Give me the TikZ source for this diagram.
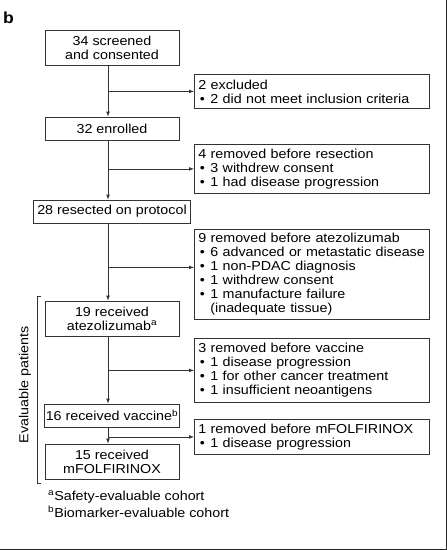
\documentclass[tikz,border=0pt]{standalone}
\usepackage{fontspec}
\setmainfont{Liberation Sans}[FakeStretch=1.1]
\usetikzlibrary{positioning}
\tikzset{block/.style={draw=black!80, line width=0.8pt, minimum width=134pt, inner xsep=1pt, inner ysep=0pt, align=center, font=\fontsize{13}{14}\selectfont},
  side/.style={draw=black!80, line width=0.8pt, anchor=north west, text width=227pt, inner xsep=4pt, inner ysep=0pt, align=left, font=\fontsize{13}{14}\selectfont},
  line/.style={-latex, line width=0.7pt, black!80},
  plain/.style={inner sep=0pt, font=\fontsize{13}{14}\selectfont}}
\newcommand{\itm}{\hspace*{1.5pt}\makebox[10.5pt][l]{\textbullet}}

\begin{document}
\begin{tikzpicture}[x=1pt,y=-1pt]
    \useasboundingbox (0,0) rectangle (447,550);
    \node[plain, anchor=base west, font=\fontsize{16}{16}\selectfont\bfseries] (tag) at (3,23) {b};

    \node[block,minimum height=35pt]                     (scr) at (112,47.5)  {34 screened\\and consented};
    \node[block,minimum height=23pt]                     (enr) at (112,128.5) {32 enrolled};
    \node[block,minimum height=23pt,minimum width=157pt] (res) at (112,211.5) {28 resected on protocol};
    \node[block,minimum height=35pt]                     (atz) at (112,318.5) {19 received\\atezolizumab\textsuperscript{a}};
    \node[block,minimum height=23pt]                     (vac) at (112,415.5) {16 received vaccine\textsuperscript{b}};
    \node[block,minimum height=35pt]                     (mfx) at (112,461.5) {15 received\\mFOLFIRINOX};

    \node[side,minimum height=34pt] (exc)  at (194,74)  {2 excluded\\\itm 2 did not meet inclusion criteria};
    \node[side,minimum height=49pt] (rres) at (194,144) {4 removed before resection\\\itm 3 withdrew consent\\\itm 1 had disease progression};
    \node[side,minimum height=90pt] (ratz) at (194,229) {9 removed before atezolizumab\\\itm 6 advanced or metastatic disease\\\itm 1 non-PDAC diagnosis\\\itm 1 withdrew consent\\\itm 1 manufacture failure\\\hspace*{12pt}(inadequate tissue)};
    \node[side,minimum height=64pt] (rvac) at (194,338) {3 removed before vaccine\\\itm 1 disease progression\\\itm 1 for other cancer treatment\\\itm 1 insufficient neoantigens};
    \node[side,minimum height=35pt] (rmfx) at (194,419) {1 removed before mFOLFIRINOX\\\itm 1 disease progression};

    \node[plain,rotate=90]              (evl) at (25,385) {Evaluable patients};
    \node[plain,anchor=base west]       (fna) at (48,500) {\textsuperscript{a}Safety-evaluable cohort};
    \node[plain,anchor=base west]       (fnb) at (48,517) {\textsuperscript{b}Biomarker-evaluable cohort};

    \coordinate (spine) at (108,0);
    \coordinate (ratzin) at ([yshift=7pt]ratz.west);

    \draw[line]               (scr.south -| spine)-- (enr.north -| spine);
    \draw[line]               (enr.south -| spine)-- (res.north -| spine);
    \draw[line]               (res.south -| spine)-- (atz.north -| spine);
    \draw[line]               (atz.south -| spine)-- (vac.north -| spine);
    \draw[line]               (vac.south -| spine)-- (mfx.north -| spine);

    \draw[line]               (exc.west -| spine)-- (exc.west);
    \draw[line]               (rres.west -| spine)-- (rres.west);
    \draw[line]               (ratzin -| spine)-- (ratzin);
    \draw[line]               (rvac.west -| spine)-- (rvac.west);
    \draw[line]               (rmfx.west -| spine)-- (rmfx.west);

    \draw[black!80, line width=0.8pt] (41,296) -- (37,296) -- (37,483) -- (41,483);
    \draw[black!85, line width=1.2pt] (446.4,0) -- (446.4,549.4) -- (0,549.4);
\end{tikzpicture}
\end{document}
